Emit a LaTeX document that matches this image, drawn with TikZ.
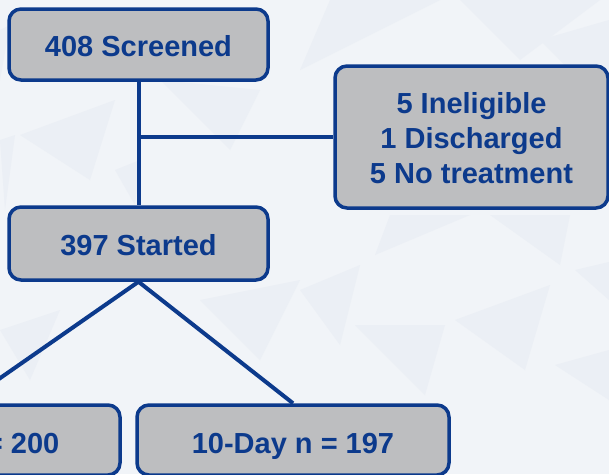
\documentclass[tikz,border=0pt]{standalone}
\usepackage{fontspec}
\setmainfont{Liberation Sans}
\definecolor{bgc}{HTML}{F1F4F8}
\definecolor{tri}{HTML}{EBEFF5}
\definecolor{navy}{RGB}{12,58,140}
\definecolor{boxgray}{HTML}{BDBEC0}
\tikzset{
  flowbox/.style={draw=navy, line width=3.5pt, fill=boxgray, rounded corners=12pt,
    inner sep=0pt, anchor=center},
  boxtext/.style={text=navy, font=\bfseries\fontsize{29}{35}\selectfont,
    inner sep=0pt, anchor=base},
  link/.style={draw=navy, line width=4pt},
}
\begin{document}
\begin{tikzpicture}[x=1pt,y=-1pt]
\useasboundingbox (0,0) rectangle (609,474);
\clip (0,0) rectangle (609,474);
\fill[bgc] (0,0) rectangle (609,474);
% faint background triangles
\fill[tri] (330,0) -- (440,0) -- (300,70) -- cycle;
\fill[tri] (460,0) -- (600,0) -- (520,60) -- cycle;
\fill[tri] (540,40) -- (609,20) -- (609,110) -- cycle;
\fill[tri] (390,215) -- (470,215) -- (375,255) -- cycle;
\fill[tri] (490,215) -- (570,215) -- (560,265) -- cycle;
\fill[tri] (300,290) -- (360,265) -- (340,345) -- cycle;
\fill[tri] (455,320) -- (550,285) -- (525,370) -- cycle;
\fill[tri] (575,270) -- (609,262) -- (609,300) -- cycle;
\fill[tri] (355,325) -- (445,325) -- (425,395) -- cycle;
\fill[tri] (555,365) -- (609,350) -- (609,400) -- cycle;
\fill[tri] (0,140) -- (15,135) -- (5,210) -- cycle;
\fill[tri] (20,135) -- (115,100) -- (90,180) -- cycle;
\fill[tri] (115,170) -- (140,160) -- (135,205) -- cycle;
\fill[tri] (0,30) -- (10,25) -- (0,80) -- cycle;
\fill[tri] (200,300) -- (300,280) -- (260,360) -- cycle;
\fill[tri] (0,330) -- (60,310) -- (30,380) -- cycle;
\fill[tri] (160,80) -- (260,90) -- (230,150) -- cycle;
% boxes
\node[flowbox, minimum width=259pt, minimum height=71pt] (scr) at (138.5,44.5) {};
\node[boxtext] (scrt) at (138.5,56) {408 Screened};
\node[flowbox, minimum width=259pt, minimum height=73pt] (sta) at (138.5,243.5) {};
\node[boxtext] (stat) at (138.5,255) {397 Started};
\node[flowbox, minimum width=273pt, minimum height=142pt] (exc) at (471.5,137) {};
\node[boxtext] (exca) at (471.5,113) {5 Ineligible};
\node[boxtext] (excb) at (471.5,148) {1 Discharged};
\node[boxtext] (excc) at (471.5,183) {5 No treatment};
\node[flowbox, minimum width=312pt, minimum height=70pt] (fiv) at (-36,440) {};
\node[boxtext, anchor=base east] (fivt) at (59.5,453) {= 200};
\node[flowbox, minimum width=312pt, minimum height=70pt] (ten) at (293,440) {};
\node[boxtext] (tent) at (293,453) {10-Day n = 197};
% connectors
\coordinate (j) at (138.5,137);
\draw[link] (scr.south) -- (sta.north);
\draw[link] (j) -- (exc.west);
\draw[link] (sta.south) -- (ten.north);
\draw[link] (sta.south) -- (fiv.north);
\end{tikzpicture}
\end{document}
